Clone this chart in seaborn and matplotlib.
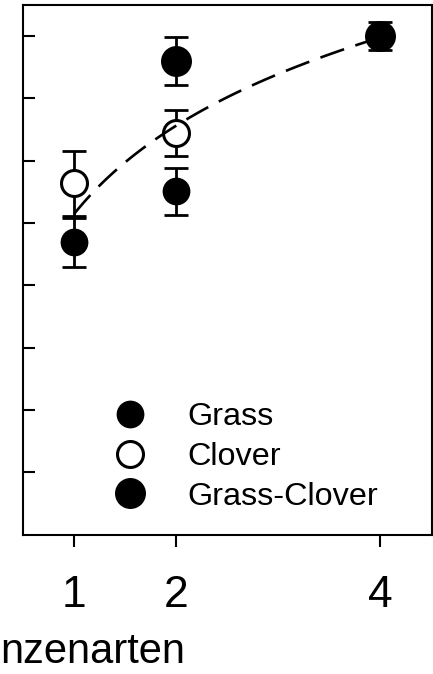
import numpy as np
import pandas as pd
import matplotlib
matplotlib.use('Agg')
import matplotlib.pyplot as plt
import seaborn as sns
from matplotlib.lines import Line2D

# Daten
grass_x = [1, 2]
grass_y = [3.69, 4.51]
grass_err = [0.39, 0.38]

clover_x = [1, 2]
clover_y = [4.64, 5.44]
clover_err = [0.52, 0.37]

mix_x = [2, 4]
mix_y = [6.60, 7.00]
mix_err = [0.38, 0.22]

xticks = [1, 2, 4]
yticks = [0, 1, 2, 3, 4, 5, 6, 7]

sns.set_style('white')
plt.rcParams['font.family'] = ['Liberation Sans', 'DejaVu Sans']
plt.rcParams['text.color'] = 'black'
plt.rcParams['xtick.color'] = 'black'
plt.rcParams['ytick.color'] = 'black'

fig = plt.figure(figsize=(4.33, 6.74), dpi=100)
ax = fig.add_axes([23 / 433, 139 / 674, 409 / 433, 530 / 674])

# Fehlerbalken
for xs, ys, es in [(grass_x, grass_y, grass_err), (clover_x, clover_y, clover_err), (mix_x, mix_y, mix_err)]:
    ax.errorbar(xs, ys, yerr=es, fmt='none', ecolor='black', elinewidth=2.0,
                capsize=8.5, capthick=2.0, zorder=2)

# Punkte
sns.scatterplot(x=grass_x, y=grass_y, ax=ax, s=20 ** 2, color='black', edgecolor='black', linewidth=0, zorder=3)
sns.scatterplot(x=clover_x, y=clover_y, ax=ax, s=18.7 ** 2, color='white', edgecolor='black', linewidth=2.2, zorder=3)
sns.scatterplot(x=mix_x, y=mix_y, ax=ax, s=22.3 ** 2, color='black', edgecolor='black', linewidth=0, zorder=3)

# Log-Anpassung an die Mittelwerte je Artenzahl
df = pd.DataFrame({'x': grass_x + clover_x + mix_x, 'y': grass_y + clover_y + mix_y})
means = df.groupby('x')['y'].mean()
b, a = np.polyfit(np.log(means.index.values), means.values, 1)
xf = np.linspace(1, 4, 100)
sns.lineplot(x=xf, y=a + b * np.log(xf), ax=ax, color='black', linewidth=1.9, zorder=4)
ax.lines[-1].set_dashes((9.5, 4.5))

ax.set_xlim(0.5, 4.51)
ax.set_ylim(-1.01, 7.5)
ax.set_xticks(xticks)
ax.set_xticklabels([str(t) for t in xticks], fontsize=32)
ax.set_yticks(yticks)
ax.set_yticklabels([])
ax.tick_params(axis='x', direction='out', length=8.6, width=1.5, pad=20, bottom=True, colors='black')
ax.tick_params(axis='y', direction='in', length=8.6, width=1.5, left=True)
for sp in ax.spines.values():
    sp.set_linewidth(1.5)
    sp.set_color('black')

handles = [
    Line2D([], [], linestyle='none', marker='o', markersize=20, markerfacecolor='black', markeredgecolor='black', markeredgewidth=0),
    Line2D([], [], linestyle='none', marker='o', markersize=18.7, markerfacecolor='white', markeredgecolor='black', markeredgewidth=2.2),
    Line2D([], [], linestyle='none', marker='o', markersize=22.3, markerfacecolor='black', markeredgecolor='black', markeredgewidth=0),
]
leg = ax.legend(handles, ['Grass', 'Clover', 'Grass-Clover'], frameon=False, fontsize=23.3,
                loc='upper left', bbox_to_anchor=(98 / 433, (674 - 386) / 674), bbox_transform=fig.transFigure,
                handlelength=0.95, handletextpad=1.3, labelspacing=0.3, borderpad=0)
for t in leg.get_texts():
    t.set_color('black')

fig.text(0 / 433, 11 / 674, 'nzenarten', fontsize=30, ha='left', va='baseline', color='black')

fig.savefig('out.png', dpi=100)
